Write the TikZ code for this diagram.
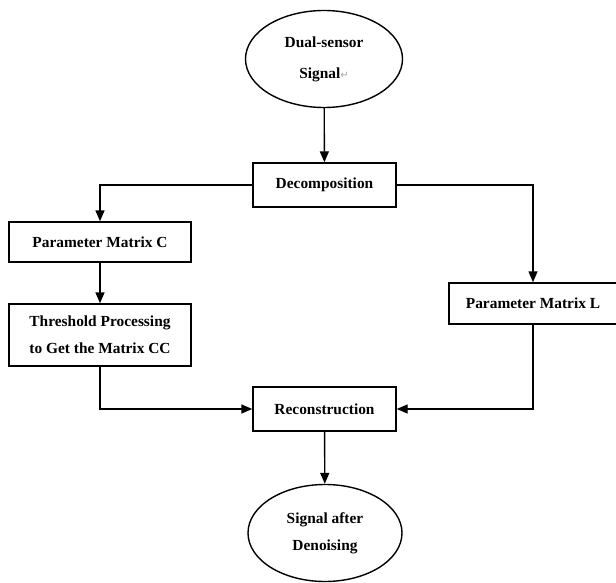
\documentclass[tikz,border=0pt]{standalone}
\usepackage{fontspec}
\setmainfont{Liberation Serif}
\newfontfamily\symfont{DejaVu Sans}
\usetikzlibrary{shapes.geometric,arrows.meta}
\begin{document}
\begin{tikzpicture}[x=1pt,y=-1pt,
  every node/.style={font=\fontsize{15.4}{27}\selectfont\bfseries, align=center, line width=1.4pt},
  ell/.style={draw, ellipse, inner sep=0pt, minimum width=157pt, minimum height=97pt},
  boxn/.style={draw, rectangle, inner sep=0pt},
  arr/.style={line width=1.4pt, -{Triangle[length=11pt,width=9pt]}}]
\useasboundingbox (0,0) rectangle (616,583);
\node[ell] (sig) at (324,59) {Dual-sensor\\[4pt]Signal{\symfont\fontsize{10}{10}\selectfont\mdseries\color{gray!70}↵}};
\node[boxn, minimum width=143pt, minimum height=44pt] (dec) at (324.5,185) {Decomposition};
\node[boxn, minimum width=182pt, minimum height=40pt] (pc) at (100,242) {Parameter Matrix C};
\node[boxn, minimum width=182pt, minimum height=62pt] (th) at (100,335) {Threshold Processing\\to Get the Matrix CC};
\node[boxn, minimum width=168pt, minimum height=41pt] (pl) at (533,303.5) {Parameter Matrix L};
\node[boxn, minimum width=143pt, minimum height=44pt] (rec) at (324.5,409) {Reconstruction};
\node[ell, minimum width=154pt] (out) at (325,533) {Signal after\\Denoising};
\draw[arr] (sig) -- (dec);
\draw[arr] (dec.west) -| (pc.north);
\draw[arr] (dec.east) -| (pl.north);
\draw[arr] (pc) -- (th);
\draw[arr] (th.south) |- (rec.west);
\draw[arr] (pl.south) |- (rec.east);
\draw[arr] (rec) -- (out);
\end{tikzpicture}
\end{document}
